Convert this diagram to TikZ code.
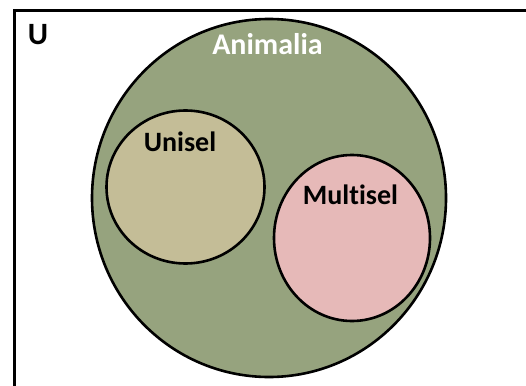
\documentclass[tikz,border=0pt]{standalone}
\usepackage{fontspec}
\setmainfont[Ligatures={NoCommon}]{Carlito}
\definecolor{animal}{HTML}{96A37E}
\definecolor{uni}{HTML}{C4BD97}
\definecolor{multi}{HTML}{E6B9B8}
\begin{document}
\begin{tikzpicture}[x=1pt,y=-1pt,
  setline/.style={draw=black,line width=2.6pt},
  lbl/.style={anchor=base,inner sep=0pt,font=\bfseries\fontsize{28}{32}\selectfont}]
\useasboundingbox (0,0) rectangle (526,385);
\begin{scope}
\clip (0,0) rectangle (526,385);
\draw[line width=3pt] (14.5,11) rectangle (540,400);
\end{scope}
\fill[animal] (269,198) ellipse [x radius=177, y radius=179];
\draw[setline] (269,198) ellipse [x radius=177, y radius=179];
\filldraw[setline,fill=uni] (185.5,187) ellipse [x radius=79, y radius=76.5];
\filldraw[setline,fill=multi] (352,238) ellipse [x radius=78, y radius=83];
\node[lbl,font=\bfseries\fontsize{31}{36}\selectfont] (u) at (38,45) {U};
\node[lbl,white,font=\bfseries\fontsize{30}{36}\selectfont] (animalia) at (267.5,55) {Animalia};
\node[lbl] (unisel) at (180,151) {Unisel};
\node[lbl] (multisel) at (350.5,204) {Multisel};
\end{tikzpicture}
\end{document}
